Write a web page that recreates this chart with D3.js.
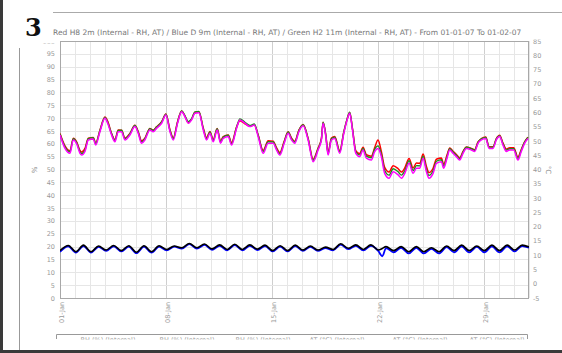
<!DOCTYPE html>
<html><head><meta charset="utf-8">
<script src="https://cdn.jsdelivr.net/npm/d3@7/dist/d3.min.js"></script>
<style>
html,body{margin:0;padding:0;background:#fff;}
svg{display:block;}
text{font-family:"DejaVu Sans",sans-serif;}
</style></head>
<body>
<svg id="chart" width="562" height="353"></svg>
<script>
// ---------- data ----------
const titleText = "Red H8 2m (Internal - RH, AT) / Blue D 9m (Internal - RH, AT) / Green H2 11m (Internal - RH, AT) - From 01-01-07 To 01-02-07";
const xTickLabels = ["01-Jan","08-Jan","15-Jan","22-Jan","29-Jan"];
const xTickDays = [0,7,14,21,28];
const leftTicks = d3.range(0,101,5);
const rightTicks = d3.range(-5,86,5);
const legendLabels = ["RH (%) (Internal)","RH (%) (Internal)","RH (%) (Internal)","AT (°C) (Internal)","AT (°C) (Internal)","AT (°C) (Internal)"];

// RH sample times (days since 01-Jan)
const rhTime = [0.00,0.33,0.66,0.88,1.10,1.32,1.43,1.65,1.87,2.20,2.36,2.64,2.97,3.15,3.41,3.63,3.85,4.07,4.29,4.62,4.95,5.17,5.39,5.61,5.94,6.16,6.38,6.72,7.00,7.27,7.49,7.77,8.04,8.26,8.48,8.70,8.92,9.18,9.47,9.69,9.91,10.13,10.39,10.61,10.79,11.12,11.34,11.67,11.89,12.22,12.55,12.84,13.10,13.43,13.76,14.09,14.31,14.53,14.82,15.08,15.30,15.52,15.79,16.07,16.40,16.73,17.06,17.28,17.39,17.57,17.72,17.94,18.16,18.49,18.76,18.98,19.15,19.33,19.55,19.81,20.03,20.25,20.58,20.80,21.02,21.24,21.46,21.75,22.02,22.35,22.57,22.79,23.07,23.34,23.56,23.78,24.00,24.22,24.39,24.66,24.88,25.21,25.36,25.58,25.76,25.98,26.20,26.42,26.64,26.86,27.19,27.41,27.63,27.85,28.14,28.36,28.62,28.84,29.06,29.28,29.50,29.72,29.99,30.27,30.49,30.71,30.93];
const rhMagenta = [63.4,58.2,56.3,61.5,60.0,56.3,55.6,57.0,61.5,61.9,59.5,64.7,69.9,68.0,63.4,60.8,64.7,64.7,61.5,63.4,66.7,64.1,60.2,61.5,65.4,64.7,66.0,68.0,71.2,64.7,61.5,68.0,72.5,70.5,68.0,69.3,71.9,72.1,65.4,61.5,64.1,60.8,65.4,60.2,62.1,62.8,59.5,66.0,69.3,68.0,66.7,67.3,62.8,56.3,60.2,60.2,57.6,55.6,60.2,64.1,61.5,60.2,64.7,67.0,61.5,53.0,57.6,61.5,68.0,62.8,55.6,61.5,62.1,56.3,64.1,69.3,71.9,65.4,56.3,55.0,57.6,54.4,53.7,57.0,58.2,55.0,48.5,46.6,49.1,47.9,46.6,48.5,52.4,48.5,50.5,50.5,54.4,49.1,46.6,48.5,52.4,53.0,50.5,54.4,57.6,56.3,55.0,53.7,56.3,58.2,57.6,57.0,60.2,61.5,62.1,58.2,58.2,61.5,62.8,59.5,57.0,57.6,57.6,53.7,57.0,60.2,62.1];
const rhRed = [64.0,59.2,57.3,62.2,60.8,57.4,56.8,58.2,62.2,62.5,60.3,65.3,70.4,68.8,64.0,61.6,65.4,65.3,62.2,64.0,67.2,64.7,61.2,62.2,66.0,65.3,66.6,68.6,71.6,65.4,62.3,68.6,72.8,70.8,68.2,69.6,72.3,72.5,66.2,62.4,64.8,61.6,66.0,61.0,62.8,63.4,60.4,66.5,69.0,67.8,66.8,67.4,63.4,57.4,61.2,61.0,58.5,56.6,61.0,64.7,62.3,61.0,65.3,67.5,62.1,54.0,58.4,62.1,68.4,63.4,56.6,62.2,62.8,57.3,64.6,69.6,72.2,66.0,57.3,56.2,58.7,55.8,55.2,58.5,61.5,57.0,50.8,49.0,51.5,50.3,49.0,50.6,54.3,50.6,52.5,52.4,56.0,51.2,48.8,50.5,54.0,54.5,52.0,55.6,58.4,57.1,55.8,54.6,57.0,58.8,58.2,57.7,60.7,62.0,62.6,58.9,58.9,62.0,63.3,60.3,58.0,58.5,58.5,54.8,57.8,60.8,62.6];
const rhGreen = [63.8,58.8,56.9,62.0,60.5,56.9,56.2,57.5,62.0,62.4,60.0,65.2,70.3,68.4,63.9,61.3,65.2,65.3,62.0,63.9,67.1,64.6,60.8,62.0,65.9,65.2,66.5,68.5,71.5,65.2,62.0,68.4,72.8,70.9,68.6,69.8,72.4,72.6,65.9,62.0,64.6,61.3,65.9,60.7,62.6,63.3,60.0,66.4,69.7,68.4,67.1,67.7,63.3,57.0,60.8,60.7,58.1,56.1,60.7,64.6,62.0,60.7,65.2,67.4,62.0,53.6,58.1,62.0,68.4,63.3,56.1,62.0,62.6,56.9,64.6,69.7,72.3,65.9,56.9,55.7,58.2,55.2,54.6,57.9,59.2,56.0,49.6,47.8,50.3,49.1,47.8,49.5,53.4,49.6,51.5,51.4,55.2,50.1,47.7,49.5,53.2,53.8,51.3,55.0,58.1,56.8,55.5,54.2,56.8,58.7,58.1,57.5,60.6,61.9,62.5,58.7,58.7,61.9,63.2,60.0,57.6,58.1,58.1,54.3,57.5,60.7,62.5];

// AT sample times (days since 01-Jan): night low / afternoon high
const atTime = [0.00,0.55,1.05,1.55,2.05,2.55,3.05,3.55,4.05,4.55,5.05,5.55,6.05,6.55,7.05,7.55,8.05,8.55,9.05,9.55,10.05,10.55,11.05,11.55,12.05,12.55,13.05,13.55,14.05,14.55,15.05,15.55,16.05,16.55,17.05,17.55,18.05,18.55,19.05,19.55,20.05,20.55,21.05,21.30,21.55,22.05,22.55,23.05,23.55,24.05,24.55,25.05,25.55,26.05,26.55,27.05,27.55,28.05,28.55,29.05,29.55,30.05,30.55,31.00];
const atBlack = [11.6,13.4,11.2,13.5,11.2,13.2,11.8,13.4,11.6,13.3,11.0,13.3,11.2,13.3,12.0,13.2,12.6,14.1,12.6,13.9,12.2,13.6,12.0,13.8,12.0,13.6,12.1,13.5,11.6,13.3,11.6,13.5,11.8,13.2,11.8,12.8,12.0,14.0,12.4,13.6,12.0,13.6,11.8,12.3,13.0,11.6,13.0,11.2,13.0,11.2,12.6,11.2,13.2,11.6,13.5,11.6,13.2,11.6,13.5,11.6,13.5,11.8,13.5,12.9];
const atBlue = [11.2,13.1,10.9,13.2,10.9,12.9,11.5,13.1,11.3,13.0,10.7,13.0,10.9,13.0,11.7,13.0,12.3,13.9,12.3,13.6,11.9,13.3,11.7,13.5,11.7,13.3,11.8,13.2,11.3,13.0,11.3,13.2,11.5,12.9,11.5,12.5,11.7,13.7,12.1,13.3,11.7,13.3,11.4,9.6,12.5,11.0,12.6,10.6,12.6,10.6,12.2,10.6,12.8,11.0,13.1,11.0,12.9,11.0,13.1,11.0,13.1,11.3,13.2,12.6];

// ---------- drawing ----------
const svg = d3.select("#chart");
const L = 60, R = 529, T = 41, B = 298;
const t0 = Date.UTC(2007,0,1);
const toDate = d => new Date(t0 + d*864e5);
const x = d3.scaleUtc().domain([toDate(0), toDate(31)]).range([L, R]);
const yL = d3.scaleLinear().domain([0,100]).range([B, T]);
const yR = d3.scaleLinear().domain([-5,85]).range([B, T]);

// page decoration
svg.append("rect").attr("x",0).attr("y",0).attr("width",3).attr("height",353).attr("fill","#3a3a3a");
svg.append("rect").attr("x",0).attr("y",350).attr("width",562).attr("height",3).attr("fill","#3a3a3a");
svg.append("line").attr("x1",53).attr("x2",562).attr("y1",12.5).attr("y2",12.5).attr("stroke","#aaa");
svg.append("line").attr("x1",19.5).attr("x2",19.5).attr("y1",48).attr("y2",350).attr("stroke","#999");
svg.append("text").text("3").attr("x",25).attr("y",36)
  .style("font-family","'DejaVu Serif',serif").style("font-weight","bold").style("font-size","24px").attr("fill","#111");

const title = svg.append("text").text(titleText).attr("x",53).attr("y",35)
  .attr("fill","#777").style("font-size","8px");
const tw = title.node().getComputedTextLength();
title.style("font-size", (8*469/tw).toFixed(2)+"px");

// clips
const defs = svg.append("defs");
defs.append("clipPath").attr("id","chartClip").append("rect").attr("x",0).attr("y",39.5).attr("width",562).attr("height",300);
defs.append("clipPath").attr("id","leftClip").append("rect").attr("x",0).attr("y",43.5).attr("width",562).attr("height",300);
defs.append("clipPath").attr("id","plotClip").append("rect").attr("x",L).attr("y",T).attr("width",R-L).attr("height",B-T);
const g = svg.append("g").attr("clip-path","url(#chartClip)");

// grid: vertical day lines
const dayDates = d3.range(0,32).map(toDate);
g.append("g").selectAll("line").data(dayDates).join("line")
  .attr("x1",d=>Math.round(x(d))+0.5).attr("x2",d=>Math.round(x(d))+0.5)
  .attr("y1",T).attr("y2",B)
  .attr("stroke",(d,i)=> (i%7===0) ? "#cfcfcf" : "#e6e6e6");
// grid: horizontal
g.append("g").selectAll("line").data(leftTicks).join("line")
  .attr("x1",L).attr("x2",R)
  .attr("y1",d=>Math.round(yL(d))+0.5).attr("y2",d=>Math.round(yL(d))+0.5)
  .attr("stroke","#e6e6e6");

// frame
g.append("rect").attr("x",L+0.5).attr("y",T+0.5).attr("width",R-L-1).attr("height",B-T)
  .attr("fill","none").attr("stroke","#a8a8a8");

// axes
const axL = svg.append("g").attr("clip-path","url(#leftClip)").append("g").attr("transform",`translate(${L},0)`)
  .call(d3.axisLeft(yL).tickValues(leftTicks).tickSize(0).tickPadding(5).tickFormat(d=>String(d)));
const axR = g.append("g").attr("transform",`translate(${R},0)`)
  .call(d3.axisRight(yR).tickValues(rightTicks).tickSize(0).tickPadding(4).tickFormat(d=>String(d)));
const axB = g.append("g").attr("transform",`translate(0,${B})`)
  .call(d3.axisBottom(x).tickValues(xTickDays.map(toDate)).tickSize(0)
    .tickFormat((d,i)=>xTickLabels[i]));
[axL,axR,axB].forEach(a=>{
  a.select(".domain").remove();
  a.selectAll("text").attr("fill","#999").style("font-size","6.5px").style("font-family","'DejaVu Sans',sans-serif");
});
axB.selectAll("text").attr("transform","rotate(-90)").attr("x",-4).attr("y",0).attr("dy","0.55em").style("text-anchor","end");

// axis titles
g.append("text").text("%").attr("transform","translate(37,170) rotate(-90)")
  .attr("text-anchor","middle").attr("fill","#888").style("font-size","7px");
g.append("text").text("°C").attr("transform","translate(546,170) rotate(90)")
  .attr("text-anchor","middle").attr("fill","#888").style("font-size","7px");

// lines
const plot = g.append("g").attr("clip-path","url(#plotClip)");
const rhLine = vals => d3.line().x((d,i)=>x(toDate(rhTime[i]))).y(d=>yL(d)).curve(d3.curveMonotoneX)(vals);
const atLine = vals => d3.line().x((d,i)=>x(toDate(atTime[i]))).y(d=>yR(d)).curve(d3.curveMonotoneX)(vals);
plot.append("path").attr("d",rhLine(rhRed)).attr("fill","none").attr("stroke","#ff0000").attr("stroke-width",1.5);
plot.append("path").attr("d",rhLine(rhGreen)).attr("fill","none").attr("stroke","#1e8c1e").attr("stroke-width",1.4);
plot.append("path").attr("d",rhLine(rhMagenta)).attr("fill","none").attr("stroke","#ff00ff").attr("stroke-width",1.5);
plot.append("path").attr("d",atLine(atBlue)).attr("fill","none").attr("stroke","#0000ff").attr("stroke-width",1.8);
plot.append("path").attr("d",atLine(atBlack)).attr("fill","none").attr("stroke","#000").attr("stroke-width",1.6);

// legend (partially cut)
const lg = svg.append("g");
defs.append("clipPath").attr("id","legClip").append("rect").attr("x",0).attr("y",330).attr("width",562).attr("height",9.5);
lg.append("path").attr("d","M56.5,339 V334.5 H527.5 V339").attr("fill","none").attr("stroke","#999");
const legCenters = [108,187,263,337,420,497];
lg.append("g").attr("clip-path","url(#legClip)").selectAll("text").data(legendLabels).join("text")
  .text(d=>d).attr("x",(d,i)=>legCenters[i]).attr("y",341.5).attr("text-anchor","middle")
  .attr("fill","#999").style("font-size","6.5px");
</script>
</body></html>
